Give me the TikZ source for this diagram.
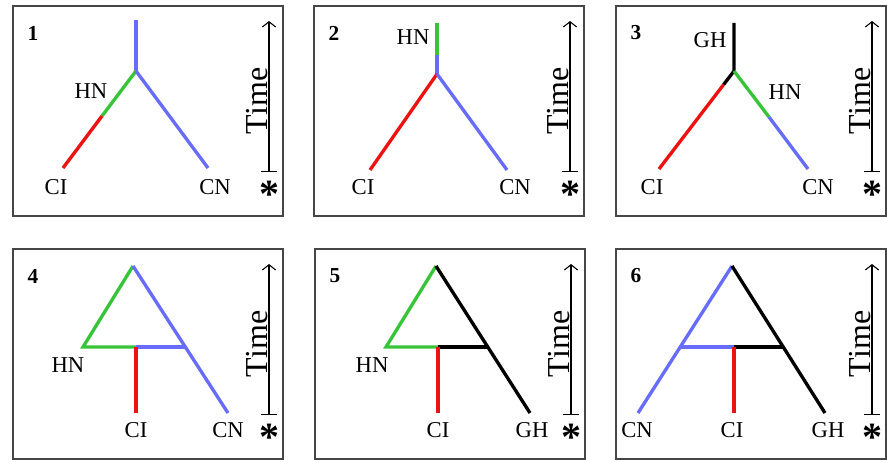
\documentclass[tikz,border=0pt]{standalone}
\usepackage{fontspec}
\setmainfont{Liberation Serif}
\usepackage{tikz}
\usetikzlibrary{arrows.meta}

\definecolor{lineblue}{RGB}{104,108,250}
\definecolor{linegreen}{RGB}{56,196,56}
\definecolor{linered}{RGB}{236,18,18}
\definecolor{framegray}{RGB}{70,70,70}

\begin{document}
\begin{tikzpicture}[
                x=0.75pt, y=-0.75pt,
                every node/.style={inner sep=0pt, font=\fontsize{17}{20}\selectfont},
                panel/.style={draw=framegray, line width=1pt},
                num/.style={font=\fontsize{16}{18}\selectfont\bfseries},
                timeaxis/.style={line width=0.8pt, arrows={Bar[width=12pt]-Straight Barb[length=4pt, width=10pt]}},
                timelbl/.style={rotate=90, font=\fontsize{24}{26}\selectfont},
                star/.style={font=\fontsize{30}{32}\selectfont\bfseries, yshift=-4.5pt},
                branch/.style={line width=2.5pt},
                bl/.style={branch, lineblue},
                gr/.style={branch, linegreen},
                rd/.style={branch, linered},
                bk/.style={branch, black}]

            \useasboundingbox (0,0) rectangle (887,460);

            % panels, numbers, time axes
            \foreach \bx/\by/\n in {13/6/1, 314/6/2, 616/6/3, 13/249/4, 315/249/5, 616/249/6} {
                \draw[panel] (\bx,\by) rectangle +(270,210);
                \node[num] (num\n) at (\bx+20,\by+27) {\n};
                \coordinate (tb\n) at (\bx+256,\by+166);
                \coordinate (tt\n) at (\bx+256,\by+15);
                \draw[timeaxis] (tb\n) -- (tt\n);
                \node[timelbl] (time\n) at (\bx+244,\by+95) {Time};
                \node[star] (star\n) at (\bx+256,\by+182) {*};
            }

            % 1
            \coordinate (p1top) at (136,20);
            \coordinate (p1j) at (136,71);
            \coordinate (p1m) at (102,116);
            \coordinate (p1ci) at (63,168);
            \coordinate (p1cn) at (208,168);
            \draw[bl] (p1top) -- (p1j);
            \draw[gr] (p1j) -- (p1m);
            \draw[rd] (p1m) -- (p1ci);
            \draw[bl] (p1j) -- (p1cn);
            \node (l1hn) at (91,91) {HN};
            \node (l1ci) at (56,187) {CI};
            \node (l1cn) at (215,187) {CN};

            % 2
            \coordinate (p2top) at (437,23);
            \coordinate (p2m) at (437,55);
            \coordinate (p2j) at (437,74);
            \coordinate (p2ci) at (370,170);
            \coordinate (p2cn) at (507,170);
            \draw[gr] (p2top) -- (p2m);
            \draw[bl] (p2m) -- (p2j);
            \draw[rd] (p2j) -- (p2ci);
            \draw[bl] (p2j) -- (p2cn);
            \node (l2hn) at (413,37) {HN};
            \node (l2ci) at (363,187) {CI};
            \node (l2cn) at (515,187) {CN};

            % 3
            \coordinate (p3top) at (734,23);
            \coordinate (p3j) at (734,71);
            \coordinate (p3a) at (723.5,84.7);
            \coordinate (p3ci) at (659,169);
            \coordinate (p3b) at (769,117);
            \coordinate (p3cn) at (808,169);
            \draw[bk] (p3top) -- (p3j) -- (p3a);
            \draw[rd] (p3a) -- (p3ci);
            \draw[gr] (p3j) -- (p3b);
            \draw[bl] (p3b) -- (p3cn);
            \node (l3gh) at (710,40) {GH};
            \node (l3hn) at (785,92) {HN};
            \node (l3ci) at (652,187) {CI};
            \node (l3cn) at (818,187) {CN};

            % 4
            \coordinate (p4top) at (133,266);
            \coordinate (p4hn) at (83,347);
            \coordinate (p4m) at (136,347);
            \coordinate (p4r) at (185,347);
            \coordinate (p4ci) at (136,413);
            \coordinate (p4cn) at (228,413);
            \draw[gr] (p4top) -- (p4hn) -- (p4m);
            \draw[bl] (p4m) -- (p4r);
            \draw[bl] (p4top) -- (p4cn);
            \draw[rd] (p4m) -- (p4ci);
            \node (l4hn) at (68,365) {HN};
            \node (l4ci) at (136,430) {CI};
            \node (l4cn) at (228,430) {CN};

            % 5
            \coordinate (p5top) at (436,266);
            \coordinate (p5hn) at (386,347);
            \coordinate (p5m) at (438,347);
            \coordinate (p5r) at (488,347);
            \coordinate (p5ci) at (438,413);
            \coordinate (p5gh) at (530,413);
            \draw[gr] (p5top) -- (p5hn) -- (p5m);
            \draw[bk] (p5m) -- (p5r);
            \draw[bk] (p5top) -- (p5gh);
            \draw[rd] (p5m) -- (p5ci);
            \node (l5hn) at (372,365) {HN};
            \node (l5ci) at (438,430) {CI};
            \node (l5gh) at (532,430) {GH};

            % 6
            \coordinate (p6top) at (732,266);
            \coordinate (p6l) at (680,347);
            \coordinate (p6m) at (734,347);
            \coordinate (p6r) at (783,347);
            \coordinate (p6cn) at (638,413);
            \coordinate (p6ci) at (734,413);
            \coordinate (p6gh) at (825,413);
            \draw[bl] (p6top) -- (p6cn);
            \draw[bl] (p6l) -- (p6m);
            \draw[bk] (p6m) -- (p6r);
            \draw[bk] (p6top) -- (p6gh);
            \draw[rd] (p6m) -- (p6ci);
            \node (l6cn) at (637,430) {CN};
            \node (l6ci) at (732,430) {CI};
            \node (l6gh) at (828,430) {GH};

        \end{tikzpicture}
\end{document}
